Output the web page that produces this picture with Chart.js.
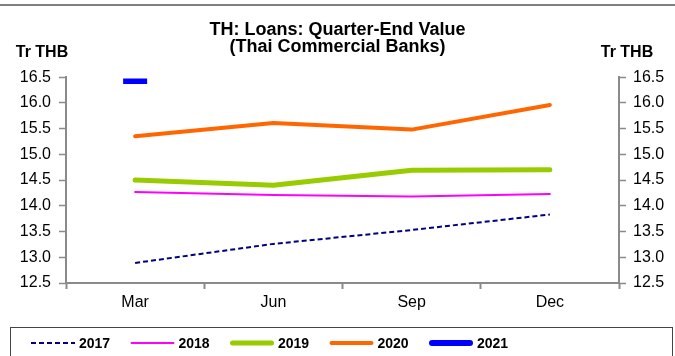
<!DOCTYPE html>
<html>
<head>
<meta charset="utf-8">
<script src="https://cdn.jsdelivr.net/npm/chart.js@4"></script>
<style>
  html, body { margin: 0; padding: 0; background: #ffffff; }
  #wrap { width: 675px; height: 356px; position: relative; }
</style>
</head>
<body>
<div id="wrap"><canvas id="loansChart" width="675" height="356"></canvas></div>
<script>
const quarters = ["Mar", "Jun", "Sep", "Dec"];
const loans2017 = [12.89, 13.26, 13.53, 13.83];
const loans2018 = [14.27, 14.21, 14.18, 14.23];
const loans2019 = [14.5, 14.4, 14.69, 14.7];
const loans2020 = [15.35, 15.61, 15.48, 15.96];
const loans2021 = [16.42, null, null, null];
const yearLabels = ["2017", "2018", "2019", "2020", "2021"];

const FONT = "'Liberation Sans', Arial, sans-serif";
const AXIS_GREY = "#8a8a8a";

// draws unit labels, frame line and the boxed legend
const extrasPlugin = {
  id: "extras",
  afterDraw(chart) {
    const ctx = chart.ctx;
    ctx.save();
    ctx.strokeStyle = "#555555";
    ctx.lineWidth = 1.5;
    ctx.beginPath();
    ctx.moveTo(0, 5);
    ctx.lineTo(675, 5);
    ctx.stroke();

    ctx.fillStyle = "#000000";
    ctx.font = `bold 16px ${FONT}`;
    ctx.textAlign = "center";
    ctx.textBaseline = "middle";
    ctx.fillText("Tr THB", 42, 53);
    ctx.fillText("Tr THB", 627, 53);

    ctx.strokeStyle = "#444444";
    ctx.lineWidth = 1;
    ctx.strokeRect(10.5, 327.5, 662, 40);

    chart.data.datasets.forEach((ds, i) => {
      const x0 = 31 + i * 99.5;
      const y = 343;
      ctx.strokeStyle = ds.legendColor;
      ctx.lineWidth = ds.legendWidth;
      ctx.setLineDash(ds.borderDash || []);
      ctx.lineCap = ds.borderDash ? "butt" : "round";
      ctx.beginPath();
      ctx.moveTo(x0 + (ds.borderDash ? 0 : ds.legendWidth / 2), y);
      ctx.lineTo(x0 + 44 - (ds.borderDash ? 0 : ds.legendWidth / 2), y);
      ctx.stroke();
      ctx.setLineDash([]);
      ctx.fillStyle = "#000000";
      ctx.font = `bold 14px ${FONT}`;
      ctx.textAlign = "left";
      ctx.fillText(ds.label, x0 + 48, y + 1);
    });
    ctx.restore();
  },
};

function lineSet(label, data, color, width, extra) {
  return Object.assign(
    {
      label: label,
      data: data,
      borderColor: color,
      backgroundColor: color,
      borderWidth: width,
      legendColor: color,
      legendWidth: width,
      pointRadius: 0,
      pointHoverRadius: 0,
      tension: 0,
      fill: false,
      borderJoinStyle: "round",
      borderCapStyle: "round",
      yAxisID: "y",
    },
    extra || {},
  );
}

const ctx = document.getElementById("loansChart").getContext("2d");
new Chart(ctx, {
  type: "line",
  data: {
    labels: quarters,
    datasets: [
      lineSet(yearLabels[0], loans2017, "#000080", 2, {
        borderDash: [5, 3],
        borderCapStyle: "butt",
      }),
      lineSet(yearLabels[1], loans2018, "#ff00ff", 2),
      lineSet(yearLabels[2], loans2019, "#99cc00", 5),
      lineSet(yearLabels[3], loans2020, "#ff6600", 4),
      lineSet(yearLabels[4], loans2021, "#0000ff", 6, {
        showLine: false,
        pointRadius: 12,
        pointStyle: "line",
        pointBorderWidth: 5.5,
        pointBorderColor: "#0000ff",
      }),
    ],
  },
  options: {
    responsive: false,
    animation: false,
    events: [],
    layout: { padding: { top: 0, left: 0, right: 0, bottom: 43 } },
    plugins: {
      legend: { display: false },
      tooltip: { enabled: false },
      title: {
        display: true,
        text: ["TH: Loans: Quarter-End Value", "(Thai Commercial Banks)"],
        color: "#000000",
        font: { family: FONT, size: 18, weight: "bold", lineHeight: 0.92 },
        padding: { top: 22, bottom: 22 },
      },
    },
    scales: {
      x: {
        offset: true,
        grid: {
          offset: true,
          drawOnChartArea: false,
          drawTicks: true,
          tickLength: 6,
          tickColor: AXIS_GREY,
          tickWidth: 2,
        },
        border: { display: true, color: AXIS_GREY, width: 2 },
        ticks: {
          color: "#000000",
          font: { family: FONT, size: 16 },
          padding: 4,
          maxRotation: 0,
        },
        afterFit(scale) {
          scale.height = 30;
        },
      },
      y: {
        position: "left",
        min: 12.5,
        max: 16.5,
        grid: {
          drawOnChartArea: false,
          tickLength: 7,
          tickColor: AXIS_GREY,
          tickWidth: 1.5,
        },
        border: { display: true, color: AXIS_GREY, width: 2 },
        ticks: {
          stepSize: 0.5,
          color: "#000000",
          font: { family: FONT, size: 16 },
          padding: 8,
          callback: (v) => v.toFixed(1),
        },
        afterFit(scale) {
          scale.width = 66;
        },
      },
      y2: {
        position: "right",
        min: 12.5,
        max: 16.5,
        grid: {
          drawOnChartArea: false,
          tickLength: 7,
          tickColor: AXIS_GREY,
          tickWidth: 1.5,
        },
        border: { display: true, color: AXIS_GREY, width: 2 },
        ticks: {
          stepSize: 0.5,
          color: "#000000",
          font: { family: FONT, size: 16 },
          padding: 7,
          callback: (v) => v.toFixed(1),
        },
        afterFit(scale) {
          scale.width = 56;
        },
      },
    },
  },
  plugins: [extrasPlugin],
});
</script>
</body>
</html>
